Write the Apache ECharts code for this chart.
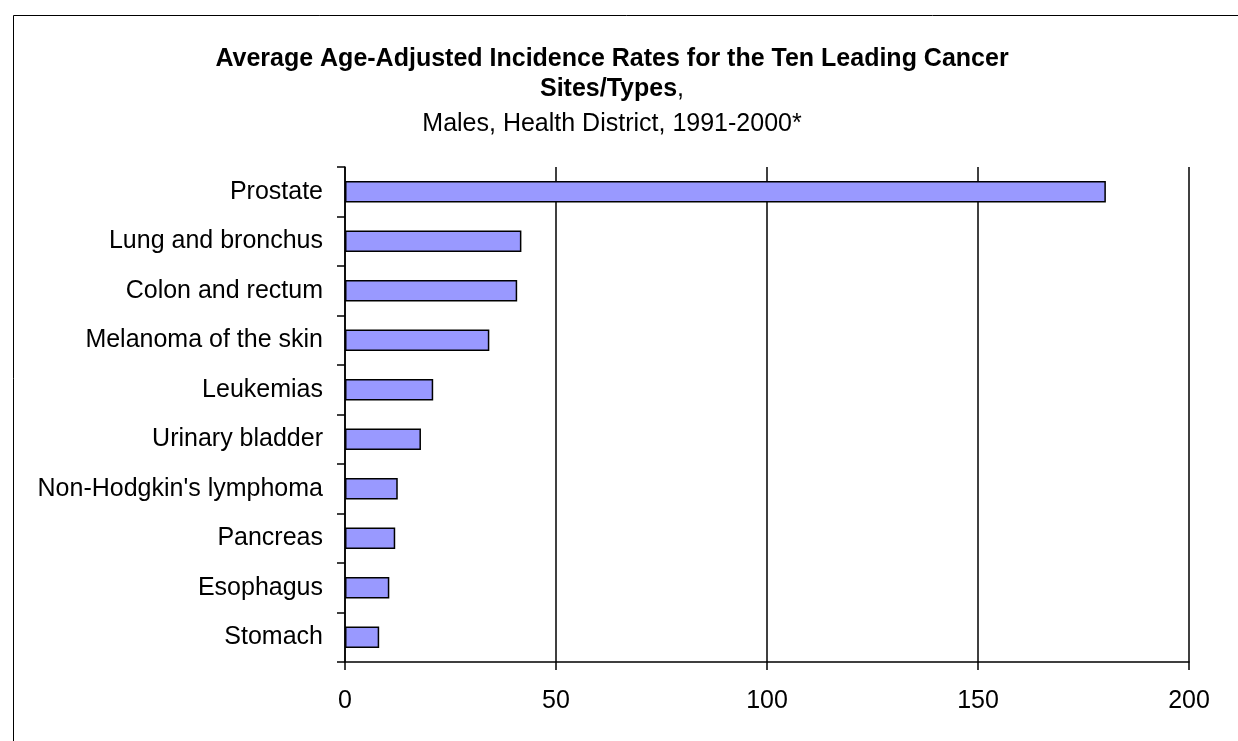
<!DOCTYPE html>
<html>
<head>
<meta charset="utf-8">
<script src="https://cdn.jsdelivr.net/npm/echarts@6/dist/echarts.min.js"></script>
<style>
html,body{margin:0;padding:0;background:#fff;}
#chart{width:1238px;height:741px;}
</style>
</head>
<body>
<div id="chart"></div>
<script>
const categories = ["Prostate","Lung and bronchus","Colon and rectum","Melanoma of the skin","Leukemias","Urinary bladder","Non-Hodgkin's lymphoma","Pancreas","Esophagus","Stomach"];
const rates = [180.3, 41.8, 40.8, 34.2, 20.9, 18.0, 12.5, 11.9, 10.5, 8.1];
const xTicks = [0, 50, 100, 150, 200];
const titleLine1 = "Average Age-Adjusted Incidence Rates for the Ten Leading Cancer";
const titleLine2 = "Sites/Types";
const subtitle = "Males, Health District, 1991-2000*";

const chart = echarts.init(document.getElementById('chart'), null, {renderer: 'canvas'});
const font = 'Liberation Sans, Arial, sans-serif';
chart.setOption({
  animation: false,
  backgroundColor: '#fff',
  textStyle: {fontFamily: font},
  title: {
    left: 612, top: 44, textAlign: 'center', padding: 0,
    text: '{b|' + titleLine1 + '}\n{b|' + titleLine2 + '}{n|,}\n{s|' + subtitle + '}',
    textStyle: {
      fontWeight: 'normal',
      rich: {
        b: {fontFamily: font, fontSize: 25, fontWeight: 'bold', color: '#000', lineHeight: 30},
        n: {fontFamily: font, fontSize: 25, fontWeight: 'normal', color: '#000', lineHeight: 30},
        s: {fontFamily: font, fontSize: 25, fontWeight: 'normal', color: '#000', lineHeight: 40}
      }
    }
  },
  graphic: [{
    type: 'rect', left: 11, top: 13, silent: true,
    shape: {x: 0, y: 0, width: 1300, height: 800},
    style: {fill: 'none', stroke: '#000', lineWidth: 1}
  }],
  grid: {left: 345, right: 49, top: 167, bottom: 79, containLabel: false},
  xAxis: {
    type: 'value', min: 0, max: 200, interval: 50,
    axisLine: {show: true, lineStyle: {color: '#000', width: 1.5}},
    axisTick: {show: true, length: 8, lineStyle: {color: '#000', width: 1.5}},
    axisLabel: {fontSize: 25, color: '#000', margin: 27, fontFamily: font,
      formatter: v => xTicks.includes(v) ? String(v) : ''},
    splitLine: {show: true, lineStyle: {color: '#000', width: 1.5}}
  },
  yAxis: {
    type: 'category', data: categories, inverse: true,
    axisLine: {show: true, lineStyle: {color: '#000', width: 1.5}},
    axisTick: {show: true, length: 8, lineStyle: {color: '#000', width: 1.5}},
    axisLabel: {fontSize: 25, color: '#000', margin: 22, fontFamily: font},
    splitLine: {show: false}
  },
  series: [{
    type: 'bar', data: rates, barWidth: '43%',
    itemStyle: {color: '#9999FF', borderColor: '#000', borderWidth: 1.5}
  }]
});
</script>
</body>
</html>
